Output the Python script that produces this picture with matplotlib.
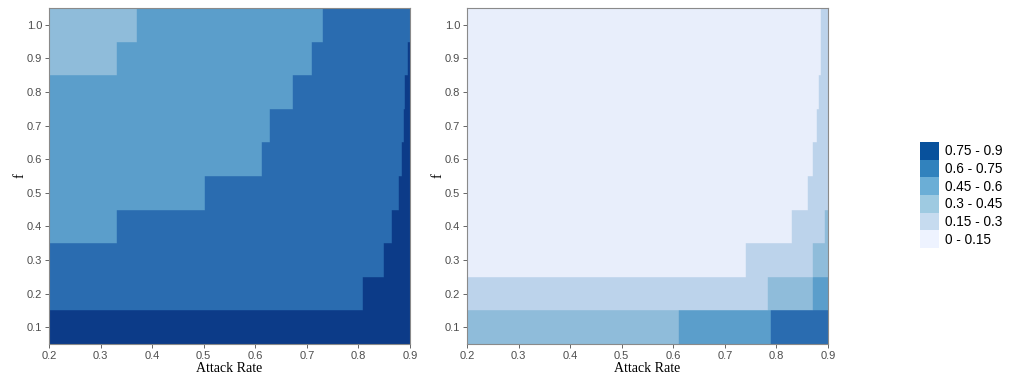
import matplotlib
matplotlib.use('Agg')
import matplotlib.pyplot as plt
from matplotlib.patches import Patch

# f values (rows), each row is a band of height 0.1
f_values = [0.1, 0.2, 0.3, 0.4, 0.5, 0.6, 0.7, 0.8, 0.9, 1.0]

# left panel: x where each segment ends, and its colour class
left_ends = [
    [0.9],
    [0.808, 0.9],
    [0.850, 0.9],
    [0.331, 0.866, 0.9],
    [0.502, 0.879, 0.9],
    [0.613, 0.884, 0.9],
    [0.629, 0.889, 0.9],
    [0.674, 0.891, 0.9],
    [0.331, 0.711, 0.897, 0.9],
    [0.371, 0.731, 0.9],
]
left_levels = [
    [5],
    [4, 5],
    [4, 5],
    [3, 4, 5],
    [3, 4, 5],
    [3, 4, 5],
    [3, 4, 5],
    [3, 4, 5],
    [2, 3, 4, 5],
    [2, 3, 4],
]

# right panel
right_ends = [
    [0.612, 0.790, 0.9],
    [0.784, 0.872, 0.9],
    [0.741, 0.872, 0.9],
    [0.830, 0.895, 0.9],
    [0.861, 0.9],
    [0.872, 0.9],
    [0.879, 0.9],
    [0.882, 0.9],
    [0.886, 0.9],
    [0.887, 0.9],
]
right_levels = [
    [2, 3, 4],
    [1, 2, 3],
    [0, 1, 2],
    [0, 1, 2],
    [0, 1],
    [0, 1],
    [0, 1],
    [0, 1],
    [0, 1],
    [0, 1],
]

class_labels = ['0 - 0.15', '0.15 - 0.3', '0.3 - 0.45', '0.45 - 0.6', '0.6 - 0.75', '0.75 - 0.9']
fill_colors = ['#e8eefb', '#bcd3eb', '#8fbcda', '#5b9ecb', '#2a6cb0', '#0c3b88']
legend_colors = ['#eef3ff', '#c6dbef', '#9ecae1', '#6baed6', '#3182bd', '#08519c']

x_start = 0.2

fig = plt.figure(figsize=(10.16, 3.75), dpi=100)
ax1 = fig.add_axes([0.0482, 0.0827, 0.3553, 0.896])
ax2 = fig.add_axes([0.4596, 0.0827, 0.3553, 0.896])


def draw_panel(ax, ends, levels):
    for f, row_ends, row_levels in zip(f_values, ends, levels):
        left = x_start
        for end, lvl in zip(row_ends, row_levels):
            ax.barh(f, end - left, left=left, height=0.1, color=fill_colors[lvl],
                    edgecolor=fill_colors[lvl], linewidth=0.3)
            left = end
    ax.set_xlim(0.2, 0.9)
    ax.set_ylim(0.05, 1.05)
    ax.set_xticks([0.2, 0.3, 0.4, 0.5, 0.6, 0.7, 0.8, 0.9])
    ax.set_yticks(f_values)
    ax.set_xticklabels(['%.1f' % v for v in ax.get_xticks()], family='Liberation Sans')
    ax.set_yticklabels(['%.1f' % v for v in f_values], family='Liberation Sans')
    ax.tick_params(labelsize=8, colors='#4d4d4d', length=3, width=0.6, pad=2)
    for s in ax.spines.values():
        s.set_color('#8a8a8a')
        s.set_linewidth(0.8)
    ax.set_xlabel('Attack Rate', family='Liberation Serif', fontsize=10, labelpad=1)
    ax.set_ylabel('f', family='Liberation Serif', fontsize=10.5, labelpad=0)


draw_panel(ax1, left_ends, left_levels)
draw_panel(ax2, right_ends, right_levels)

handles = [Patch(facecolor=c, edgecolor='none') for c in legend_colors[::-1]]
fig.legend(handles, class_labels[::-1], loc='center left', bbox_to_anchor=(0.899, 0.48),
           frameon=False, handlelength=1.4, handleheight=1.62,
           handletextpad=0.45, labelspacing=0.0, borderpad=0,
           prop={'family': 'Liberation Sans', 'size': 9.8})

fig.savefig('out.png', dpi=100)
